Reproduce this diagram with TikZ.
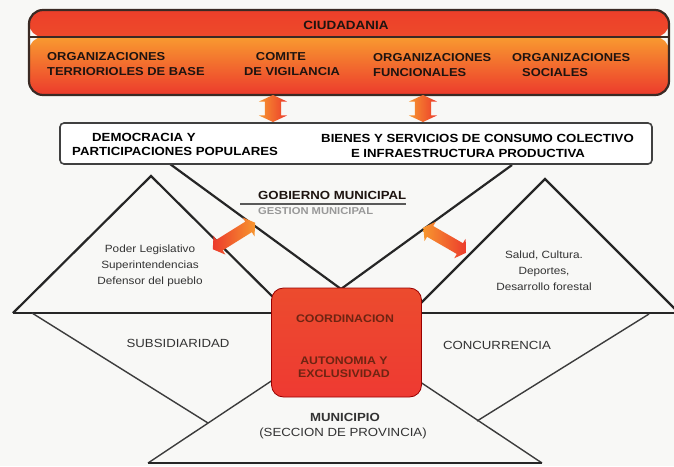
\documentclass[tikz,border=0pt]{standalone}
\usepackage{fontspec}
\setmainfont{Liberation Sans}[FakeStretch=1.12]
\usetikzlibrary{shapes.arrows}
\definecolor{bg}{HTML}{F8F8F6}
\definecolor{hdrTop}{HTML}{EC3F2A}
\definecolor{hdrBot}{HTML}{F2622C}
\definecolor{bandTop}{HTML}{F89A30}
\definecolor{bandBot}{HTML}{EC3A2C}
\definecolor{edge}{HTML}{3A2A24}
\definecolor{ink}{HTML}{1E1410}
\definecolor{boxTop}{HTML}{EC4B2E}
\definecolor{boxMid}{HTML}{F7962F}
\definecolor{boxBot}{HTML}{EE3A32}
\definecolor{lineC}{HTML}{262626}
\definecolor{thinC}{HTML}{3C3C3C}
\definecolor{softInk}{HTML}{333333}
\definecolor{brownInk}{HTML}{6E2412}
\definecolor{arrOr}{HTML}{F7962F}
\definecolor{arrRed}{HTML}{EC3A2C}
\tikzset{
  ciudbox/.style={rounded corners=14pt, minimum width=640pt, minimum height=85pt,
    inner sep=0pt, draw=edge, line width=2.2pt,
    path picture={
      \shade[top color=hdrTop, bottom color=hdrBot]
        (path picture bounding box.north west) rectangle ([yshift=-27pt]path picture bounding box.north east);
      \shade[top color=bandTop, bottom color=bandBot]
        ([yshift=-27pt]path picture bounding box.north west) rectangle (path picture bounding box.south east);
      \draw[edge, line width=1.8pt]
        ([yshift=-27pt]path picture bounding box.north west) -- ([yshift=-27pt]path picture bounding box.north east);
    }},
  midbox/.style={rounded corners=4pt, minimum width=592pt, minimum height=41pt,
    inner sep=0pt, draw=black!75, line width=1.6pt, fill=white},
  coordbox/.style={rounded corners=12pt, minimum width=150pt, minimum height=109pt,
    inner sep=0pt, draw=red!60!black, line width=0.8pt,
    top color=boxTop, middle color=boxMid, bottom color=boxBot},
  dblarrow/.style={shape=double arrow, inner xsep=0pt, inner ysep=6pt, draw=none,
    double arrow tip angle=110, double arrow head extend=5pt,
    minimum height=50pt},
  varrow/.style={shape=double arrow, inner xsep=0pt, inner ysep=8pt, draw=none,
    double arrow tip angle=130, double arrow head extend=6pt,
    minimum height=27pt, rotate=-90,
    left color=arrOr, right color=arrRed},
  bigline/.style={draw=lineC, line width=2.2pt, line join=miter},
  thinline/.style={draw=thinC, line width=1.4pt},
  toptxt/.style={inner sep=0pt, text=ink, font=\fontsize{11.5}{15}\selectfont\bfseries},
  midtxt/.style={inner sep=0pt, text=black, font=\fontsize{11.8}{15}\selectfont\bfseries},
  tritxt/.style={inner sep=0pt, text=softInk, align=center, font=\fontsize{10.5}{16}\selectfont},
  lowtxt/.style={inner sep=0pt, text=softInk, font=\fontsize{11.8}{16}\selectfont},
  boxtxt/.style={inner sep=0pt, text=brownInk, font=\fontsize{11}{13}\selectfont\bfseries}
}
\begin{document}
\begin{tikzpicture}[x=1pt,y=-1pt]
\fill[bg] (0,0) rectangle (674,466);
\useasboundingbox (0,0) rectangle (674,466);

% ---- coordinates ----
\coordinate (vl) at (170,164);
\coordinate (vr) at (512,165);
\coordinate (vb) at (341,289);
\coordinate (tlL) at (13,313);
\coordinate (tlA) at (151,176);
\coordinate (tlR) at (289,313);
\coordinate (trL) at (411,313);
\coordinate (trA) at (545,179);
\coordinate (trR) at (679,313);
\coordinate (baseR) at (676,313);
\coordinate (lo1a) at (32,313);
\coordinate (lo1b) at (208,423);
\coordinate (lo2a) at (649,314);
\coordinate (lo2b) at (477,421);
\coordinate (btL) at (148,463);
\coordinate (btA) at (345,332);
\coordinate (btR) at (542,463);
\coordinate (gl1) at (240,204);
\coordinate (gl2) at (406,204);

% ---- lines ----
\draw[bigline] (tlL) -- (tlA) -- (tlR);
\draw[bigline] (trL) -- (trA) -- (trR);
\draw[bigline] (tlL) -- (baseR);
\draw[bigline] (vl) -- (vb) -- (vr);
\draw[thinline] (lo1a) -- (lo1b);
\draw[thinline] (lo2a) -- (lo2b);
\draw[thinline] (btL) -- (btA) -- (btR);
\draw[draw=lineC, line width=2pt] (btL) -- (btR);
\draw[draw=black!65, line width=1.2pt] (gl1) -- (gl2);

% ---- boxes ----
\node[ciudbox] (ciud) at (349,52.5) {};
\node[midbox] (mid) at (356,143.5) {};
\node[coordbox] (coord) at (346.5,342.5) {};

% ---- arrows ----
\node[varrow] (va1) at (273,108.5) {};
\node[varrow] (va2) at (423,108.5) {};
\node[dblarrow, rotate=32, left color=arrRed, right color=arrOr] (da1) at (234,236) {};
\node[dblarrow, rotate=-30, left color=arrOr, right color=arrRed] (da2) at (445,240) {};

% ---- texts: top box ----
\node[toptxt, font=\fontsize{12}{15}\selectfont\bfseries] (tCiud) at (346,25) {CIUDADANIA};
\node[toptxt, anchor=west] (t1a) at (47,57) {ORGANIZACIONES};
\node[toptxt, anchor=west] (t1b) at (47,72) {TERRIORIOLES DE BASE};
\node[toptxt] (t2a) at (281,57) {COMITE};
\node[toptxt] (t2b) at (292,72) {DE VIGILANCIA};
\node[toptxt, anchor=west] (t3a) at (373,58) {ORGANIZACIONES};
\node[toptxt, anchor=west] (t3b) at (373,73) {FUNCIONALES};
\node[toptxt, anchor=west] (t4a) at (512,58) {ORGANIZACIONES};
\node[toptxt, anchor=west] (t4b) at (522,73) {SOCIALES};

% ---- texts: middle box ----
\node[midtxt, anchor=west] (m1a) at (92,137) {DEMOCRACIA Y};
\node[midtxt, anchor=west] (m1b) at (72,151) {PARTICIPACIONES POPULARES};
\node[midtxt, anchor=east] (m2a) at (634,138) {BIENES Y SERVICIOS DE CONSUMO COLECTIVO};
\node[midtxt] (m2b) at (468,153) {E INFRAESTRUCTURA PRODUCTIVA};

% ---- gobierno ----
\node[midtxt, anchor=west, text=ink] (gob) at (258,195) {GOBIERNO MUNICIPAL};
\node[inner sep=0pt, anchor=west, text=black!40, font=\fontsize{10}{12}\selectfont\bfseries] (ges) at (258,211) {GESTION MUNICIPAL};

% ---- triangles ----
\node[tritxt] (tl) at (150,266) {Poder Legislativo\\Superintendencias\\Defensor del pueblo};
\node[tritxt] (tr) at (544,271) {Salud, Cultura.\\Deportes,\\Desarrollo forestal};

% ---- box texts ----
\node[boxtxt] (c1) at (345,319) {COORDINACION};
\node[boxtxt] (c2) at (344,361) {AUTONOMIA Y};
\node[boxtxt] (c3) at (344,374) {EXCLUSIVIDAD};

% ---- lower texts ----
\node[lowtxt] (sub) at (178,343) {SUBSIDIARIDAD};
\node[lowtxt] (con) at (497,345) {CONCURRENCIA};
\node[lowtxt, font=\fontsize{11.8}{16}\selectfont\bfseries] (mun) at (345,417) {MUNICIPIO};
\node[lowtxt] (sec) at (343,433) {(SECCION DE PROVINCIA)};
\end{tikzpicture}
\end{document}
